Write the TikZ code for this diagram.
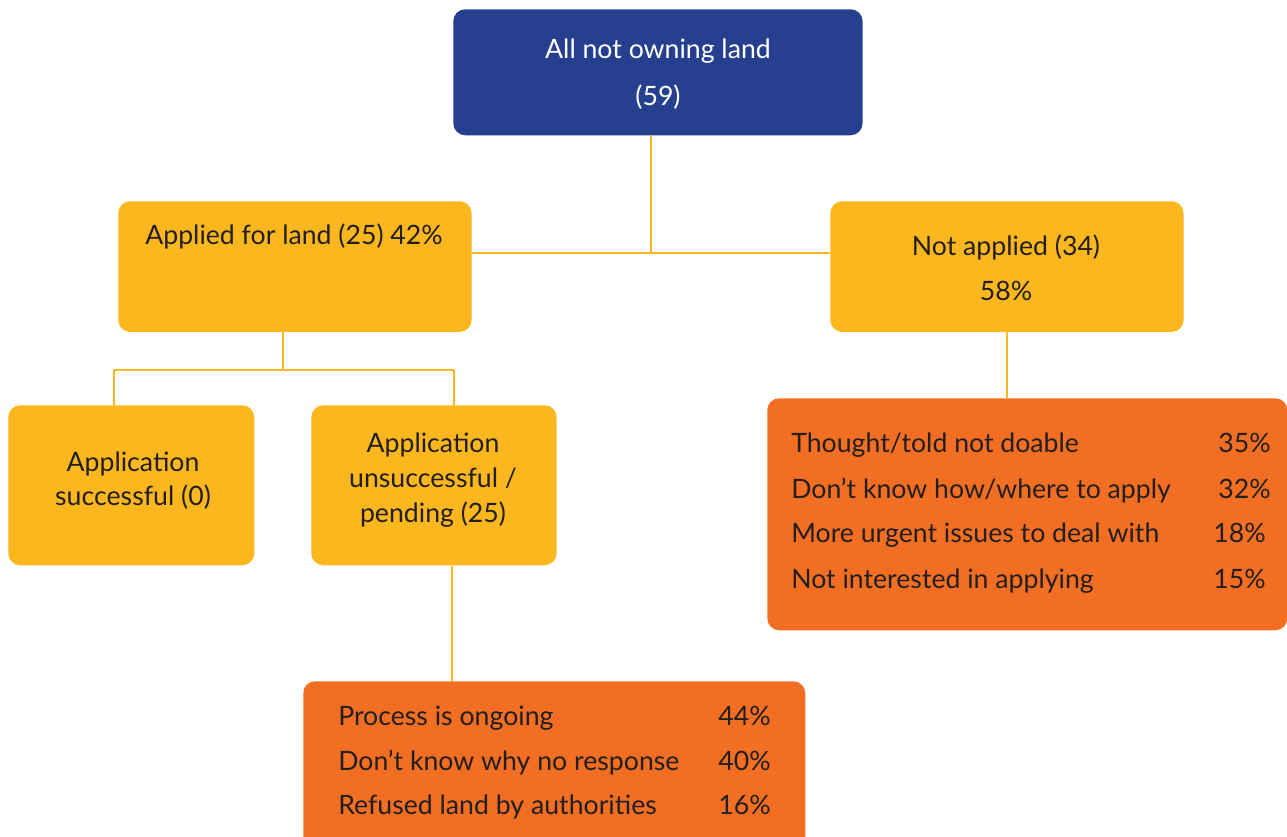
\documentclass[tikz,border=0pt]{standalone}
\usepackage{fontspec}
\setmainfont{Lato}
\definecolor{cblue}{HTML}{26408F}
\definecolor{cyel}{HTML}{FCB71E}
\definecolor{corg}{HTML}{F26E22}
\definecolor{ctxt}{HTML}{231F20}
\begin{document}
\begin{tikzpicture}[x=0.75pt,y=-0.75pt,
  box/.style={rounded corners=9pt, inner sep=0pt, anchor=north west},
  lbl/.style={font=\fontsize{20}{24}\selectfont, text=ctxt, inner sep=0pt},
  conn/.style={draw=cyel, line width=1.6pt}]
\useasboundingbox (0,0) rectangle (1287,837);
% boxes
\node[box, fill=cblue, minimum width=307pt, minimum height=94.5pt] (top) at (453,9) {};
\node[box, fill=cyel, minimum width=265pt, minimum height=98pt] (applied) at (118,201) {};
\node[box, fill=cyel, minimum width=265pt, minimum height=98pt] (notapp) at (830,201) {};
\node[box, fill=cyel, minimum width=184.5pt, minimum height=120pt] (succ) at (8,405) {};
\node[box, fill=cyel, minimum width=184pt, minimum height=120pt] (unsucc) at (311,405) {};
\node[box, fill=corg, minimum width=390pt, minimum height=174pt] (reasons) at (767,398) {};
\node[box, fill=corg, minimum width=376.5pt, minimum height=130pt] (process) at (303,681) {};
% texts
\node[lbl, text=white, anchor=base] (t1) at (658,59) {All not owning land};
\node[lbl, text=white, anchor=base] (t2) at (658,106) {(59)};
\node[lbl, anchor=base west] (t3) at (145,245) {Applied for land (25) 42\%};
\node[lbl, anchor=base] (t4) at (1006,256) {Not applied (34)};
\node[lbl, anchor=base] (t5) at (1006,301) {58\%};
\node[lbl, anchor=base] (t6) at (133,471) {Application};
\node[lbl, anchor=base] (t7) at (133,505) {successful (0)};
\node[lbl, anchor=base] (t8) at (433,452) {Application};
\node[lbl, anchor=base] (t9) at (433,487) {unsuccessful /};
\node[lbl, anchor=base] (t10) at (433,522) {pending (25)};
% reasons right
\node[lbl, anchor=base west] (r1) at (791,452) {Thought/told not doable};
\node[lbl, anchor=base east] (p1) at (1271,452) {35\%};
\node[lbl, anchor=base west] (r2) at (791,498) {Don’t know how/where to apply};
\node[lbl, anchor=base east] (p2) at (1271,498) {32\%};
\node[lbl, anchor=base west] (r3) at (791,542) {More urgent issues to deal with};
\node[lbl, anchor=base east] (p3) at (1266,542) {18\%};
\node[lbl, anchor=base west] (r4) at (791,588) {Not interested in applying};
\node[lbl, anchor=base east] (p4) at (1266,588) {15\%};
% process
\node[lbl, anchor=base west] (q1) at (338,725) {Process is ongoing};
\node[lbl, anchor=base east] (s1) at (771,725) {44\%};
\node[lbl, anchor=base west] (q2) at (338,770) {Don’t know why no response};
\node[lbl, anchor=base east] (s2) at (771,770) {40\%};
\node[lbl, anchor=base west] (q3) at (338,814) {Refused land by authorities};
\node[lbl, anchor=base east] (s3) at (771,814) {16\%};
% connectors
\coordinate (j1) at (651,253);
\coordinate (j2) at (283,370);
\coordinate (ja) at (114,370);
\coordinate (jb) at (454,370);
\draw[conn] (top.south -| j1) -- (j1);
\draw[conn] (applied.east |- j1) -- (notapp.west |- j1);
\draw[conn] (applied.south -| j2) -- (j2);
\draw[conn] (ja) -- (jb);
\draw[conn] (ja) -- (succ.north -| ja);
\draw[conn] (jb) -- (unsucc.north -| jb);
\coordinate (j3) at (1007,0);
\draw[conn] (notapp.south -| j3) -- (reasons.north -| j3);
\coordinate (j4) at (452,0);
\draw[conn] (unsucc.south -| j4) -- (process.north -| j4);
\end{tikzpicture}
\end{document}
